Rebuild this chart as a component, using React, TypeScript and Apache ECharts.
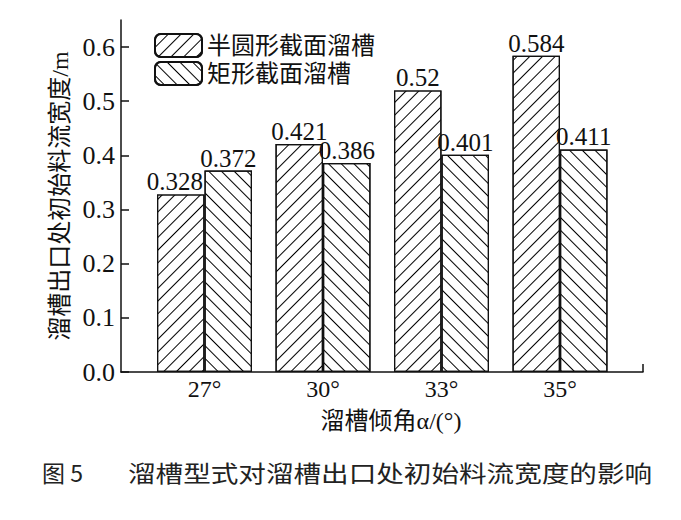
import React, { useEffect, useRef } from "react";
import * as echarts from "echarts";

const categories = ["27°", "30°", "33°", "35°"];
const seriesNames = ["半圆形截面溜槽", "矩形截面溜槽"];
const semicircleValues = [0.328, 0.421, 0.52, 0.584];
const rectValues = [0.372, 0.386, 0.401, 0.411];
const yTickMax = 0.65;
const yInterval = 0.1;
const yAxisName = "溜槽出口处初始料流宽度/m";
const xAxisName = "溜槽倾角α/(°)";
const captionLabel = "图 5";
const captionText = "溜槽型式对溜槽出口处初始料流宽度的影响";

const SERIF = "'Liberation Serif', 'Noto Sans CJK SC', serif";
const INK = "#111";

export default function App() {
  const ref = useRef<HTMLDivElement>(null);
  useEffect(() => {
    document.body.style.margin = "0";
    const chart = echarts.init(ref.current!, null, { renderer: "svg" });
    const gridTop = 20;
    const gridHeight = 352;
    const hatch = (rot: number) => ({
      symbol: "rect",
      symbolSize: 1,
      color: "#000",
      dashArrayX: [1, 0],
      dashArrayY: [1, 8],
      rotation: rot,
    });
    const labelStyle = {
      show: true,
      position: "top",
      distance: 0,
      fontSize: 25,
      fontFamily: SERIF,
      color: INK,
    };
    const semicircleData = semicircleValues.map((v, i) =>
      i === 0 ? { value: v, label: { offset: [-6, 0] } } : v
    );
    chart.setOption({
      animation: false,
      backgroundColor: "#fff",
      grid: [
        { left: 121, width: 522, top: gridTop, height: gridHeight },
        { left: 145.25, width: 474, top: gridTop, height: gridHeight },
      ],
      legend: {
        orient: "vertical",
        left: 154,
        top: 33,
        padding: 0,
        itemWidth: 47,
        itemHeight: 23,
        itemGap: 3,
        textStyle: { fontSize: 24, fontFamily: SERIF, color: INK },
        data: seriesNames,
      },
      xAxis: [
        {
          gridIndex: 0,
          type: "value",
          min: 0,
          max: 1,
          axisLine: { show: true, lineStyle: { color: INK, width: 1.5 } },
          axisTick: { show: false },
          axisLabel: { show: false },
          splitLine: { show: false },
          name: xAxisName,
          nameLocation: "middle",
          nameGap: 37,
          nameTextStyle: {
            fontSize: 24,
            fontFamily: SERIF,
            color: INK,
            padding: [0, 0, 0, 18],
          },
        },
        {
          gridIndex: 1,
          type: "category",
          data: categories,
          axisLine: { show: false },
          axisTick: { show: false },
          axisLabel: {
            fontSize: 24,
            fontFamily: SERIF,
            color: INK,
            margin: 5,
          },
        },
      ],
      yAxis: [
        {
          gridIndex: 0,
          type: "value",
          min: 0,
          max: yTickMax,
          interval: yInterval,
          axisLine: { show: true, lineStyle: { color: INK, width: 1.5 } },
          axisTick: {
            show: true,
            inside: true,
            length: 8,
            lineStyle: { color: INK, width: 1.5 },
          },
          axisLabel: {
            fontSize: 26,
            fontFamily: SERIF,
            color: INK,
            margin: 6,
            showMaxLabel: false,
            formatter: (v: number) => v.toFixed(1),
          },
          splitLine: { show: false },
          name: yAxisName,
          nameLocation: "middle",
          nameGap: 43,
          nameTextStyle: { fontSize: 24, fontFamily: SERIF, color: INK },
        },
        {
          gridIndex: 1,
          type: "value",
          min: 0,
          max: yTickMax,
          show: false,
        },
      ],
      series: [
        {
          name: seriesNames[0],
          type: "bar",
          xAxisIndex: 1,
          yAxisIndex: 1,
          data: semicircleData,
          barWidth: 47.5,
          barGap: "0%",
          itemStyle: {
            color: "#fff",
            borderColor: INK,
            borderWidth: 1.2,
            decal: hatch(-Math.PI / 4),
          },
          label: labelStyle,
        },
        {
          name: seriesNames[1],
          type: "bar",
          xAxisIndex: 1,
          yAxisIndex: 1,
          data: rectValues,
          barWidth: 47.5,
          barGap: "0%",
          itemStyle: {
            color: "#fff",
            borderColor: INK,
            borderWidth: 1.2,
            decal: hatch(Math.PI / 4),
          },
          label: labelStyle,
        },
      ],
      graphic: [
        {
          type: "line",
          shape: { x1: 643, y1: 372, x2: 643, y2: 364 },
          style: { stroke: INK, lineWidth: 1.5 },
        },
        {
          type: "text",
          x: 42,
          y: 472,
          style: {
            text: captionLabel,
            font: "23px 'Noto Sans CJK SC'",
            fill: "#222",
            verticalAlign: "middle",
          },
        },
        {
          type: "text",
          x: 128,
          y: 472,
          scaleX: 1.2,
          style: {
            text: captionText,
            font: "23px 'Noto Sans CJK SC'",
            fill: "#222",
            verticalAlign: "middle",
          },
        },
      ],
    });
    return () => chart.dispose();
  }, []);
  return <div ref={ref} style={{ width: 681, height: 520 }} />;
}
